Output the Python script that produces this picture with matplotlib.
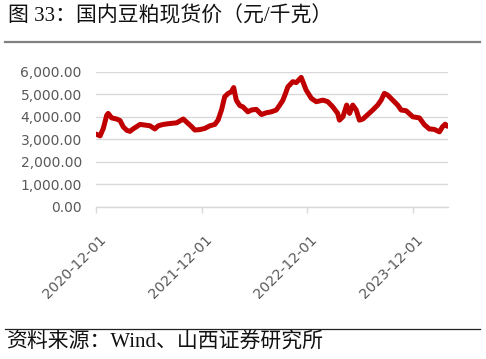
import matplotlib
matplotlib.use("Agg")
import matplotlib.pyplot as plt
from matplotlib.transforms import ScaledTranslation
from matplotlib.ticker import FuncFormatter
import pandas as pd

plt.rcParams['font.family'] = ['DejaVu Sans', 'Noto Sans CJK SC']

dates = ["2020-12-02", "2020-12-16", "2020-12-27", "2021-01-08", "2021-01-13", "2021-01-25",
         "2021-02-11", "2021-02-23", "2021-03-06", "2021-03-18", "2021-03-29", "2021-04-09",
         "2021-05-03", "2021-05-20", "2021-06-06", "2021-06-23", "2021-07-05", "2021-07-22",
         "2021-08-14", "2021-09-06", "2021-09-29", "2021-10-16", "2021-10-28", "2021-11-08",
         "2021-11-25", "2021-12-12", "2021-12-30", "2022-01-16", "2022-01-27", "2022-02-08",
         "2022-02-19", "2022-03-03", "2022-03-14", "2022-03-22", "2022-03-31", "2022-04-12",
         "2022-04-23", "2022-05-10", "2022-05-22", "2022-06-08", "2022-06-26", "2022-07-13",
         "2022-07-30", "2022-08-16", "2022-08-28", "2022-09-08", "2022-09-17", "2022-09-25",
         "2022-10-12", "2022-10-24", "2022-11-10", "2022-11-16", "2022-11-27", "2022-12-15",
         "2023-01-01", "2023-01-24", "2023-02-10", "2023-02-27", "2023-03-16", "2023-03-22",
         "2023-04-03", "2023-04-16", "2023-04-26", "2023-05-07", "2023-05-19", "2023-05-30",
         "2023-06-11", "2023-06-28", "2023-07-15", "2023-08-01", "2023-08-13", "2023-08-24",
         "2023-09-05", "2023-09-22", "2023-10-09", "2023-10-21", "2023-11-07", "2023-11-30",
         "2023-12-23", "2024-01-09", "2024-01-26", "2024-02-12", "2024-03-01", "2024-03-12",
         "2024-03-21", "2024-03-28"]
prices = [3230, 3150, 3480, 4070, 4150, 3950,
          3900, 3830, 3550, 3400, 3350, 3460,
          3660, 3630, 3600, 3460, 3600, 3660,
          3700, 3730, 3900, 3700, 3560, 3410,
          3430, 3480, 3600, 3660, 3850, 4300,
          4890, 5040, 5110, 5300, 4740, 4500,
          4440, 4220, 4300, 4330, 4100, 4180,
          4220, 4300, 4520, 4740, 5040, 5330,
          5560, 5520, 5750, 5560, 5190, 4820,
          4670, 4740, 4670, 4440, 4150, 3850,
          4000, 4520, 4150, 4520, 4300, 3850,
          3900, 4100, 4300, 4520, 4740, 5040,
          4960, 4740, 4520, 4300, 4270, 4000,
          3950, 3650, 3460, 3440, 3330, 3560,
          3670, 3580]
tick_labels = ["2020-12-01", "2021-12-01", "2022-12-01", "2023-12-01"]
y_ticks = [0, 1000, 2000, 3000, 4000, 5000, 6000]

title = "图 33：国内豆粕现货价（元/千克）"
source = "资料来源：Wind、山西证券研究所"

x = pd.to_datetime(dates)

fig = plt.figure(figsize=(4.86, 3.59), dpi=100)
ax = fig.add_axes([0.197, 0.4242, 0.725, 0.3758])

ax.plot(x, prices, color="#C00000", linewidth=3.6, solid_joinstyle="round", solid_capstyle="round")

ax.set_ylim(0, 6000)
ax.set_yticks(y_ticks)
ax.yaxis.set_major_formatter(FuncFormatter(lambda v, p: f"{v:,.2f}"))
ax.set_xlim(pd.Timestamp("2020-12-01"), pd.Timestamp("2024-03-31"))
ax.set_xticks(pd.to_datetime(tick_labels))
ax.set_xticklabels(tick_labels)

ax.grid(axis="y", color="#d9d9d9", linewidth=1.0)
ax.set_axisbelow(True)
for s in ["left", "right", "top"]:
    ax.spines[s].set_visible(False)
ax.spines["bottom"].set_color("#d9d9d9")
ax.spines["bottom"].set_linewidth(1.0)
ax.tick_params(axis="y", length=0, labelsize=10, labelcolor="#595959", pad=10)
ax.tick_params(axis="x", length=4.3, width=1.0, color="#d9d9d9", labelsize=10.3, labelcolor="#595959")

off = ScaledTranslation(8 / 100, -20 / 100, fig.dpi_scale_trans)
for lab in ax.get_xticklabels():
    lab.set_rotation(45)
    lab.set_rotation_mode("anchor")
    lab.set_ha("right")
    lab.set_va("center")
    lab.set_transform(lab.get_transform() + off)

mixed = ['Liberation Serif', 'Noto Sans CJK SC']
fig.text(0.016, 0.955, title, fontsize=15, color="#111111", va="center", ha="left", family=mixed)
fig.add_artist(plt.Line2D([0.01, 0.988], [1 - 42.3 / 359] * 2, color="#808080", linewidth=1.6,
                          transform=fig.transFigure))
fig.add_artist(plt.Line2D([0.01, 0.988], [1 - 328.5 / 359] * 2, color="#222222", linewidth=0.9,
                          transform=fig.transFigure))
fig.text(0.012, 0.045, source, fontsize=15, color="#111111", va="center", ha="left", family=mixed)

fig.savefig("out.png", dpi=100)
